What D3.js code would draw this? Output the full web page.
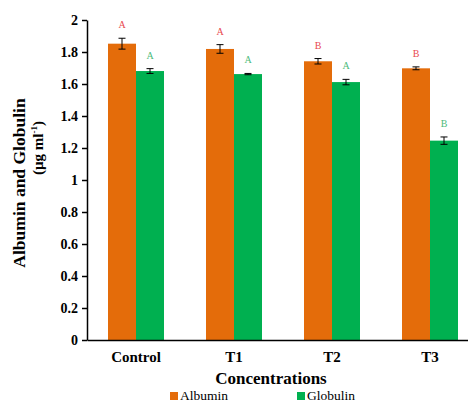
<!DOCTYPE html>
<html><head><meta charset="utf-8">
<script src="https://cdn.jsdelivr.net/npm/d3@7"></script>
<style>body{margin:0;background:#fff}svg{display:block}</style>
</head><body>
<script>
const categories = ["Control", "T1", "T2", "T3"];
const seriesNames = ["Albumin", "Globulin"];
const albumin = [1.852, 1.819, 1.742, 1.698];
const albuminErr = [0.034, 0.027, 0.017, 0.009];
const globulin = [1.681, 1.662, 1.612, 1.246];
const globulinErr = [0.015, 0.004, 0.017, 0.023];
const albuminLetters = ["A", "A", "B", "B"];
const globulinLetters = ["A", "A", "A", "B"];
const yTicks = [0, 0.2, 0.4, 0.6, 0.8, 1, 1.2, 1.4, 1.6, 1.8, 2];

const W = 468, H = 402;
const colors = {Albumin: "#E46C0A", Globulin: "#00B050"};
const letterColors = {Albumin: "#E8474E", Globulin: "#4CBB7A"};
const serif = "'Liberation Serif','Times New Roman',serif";

const svg = d3.select("body").append("svg").attr("width", W).attr("height", H);

const x = d3.scaleBand().domain(categories).range([87, 479]);
const xs = d3.scaleBand().domain(seriesNames).range([x.bandwidth()/2 - 28, x.bandwidth()/2 + 28]);
const y = d3.scaleLinear().domain([0, 2]).range([340, 20]);

const data = [
  {name: "Albumin", vals: albumin, errs: albuminErr, letters: albuminLetters},
  {name: "Globulin", vals: globulin, errs: globulinErr, letters: globulinLetters}
];

// bars
data.forEach(s => {
  const g = svg.append("g");
  categories.forEach((c, i) => {
    const bx = x(c) + xs(s.name);
    g.append("rect").attr("x", bx).attr("y", y(s.vals[i]))
      .attr("width", xs.bandwidth()).attr("height", y(0) - y(s.vals[i]))
      .attr("fill", colors[s.name]);
    const cx = bx + xs.bandwidth()/2;
    const top = y(s.vals[i] + s.errs[i]), bot = y(s.vals[i] - s.errs[i]);
    g.append("line").attr("x1", cx).attr("x2", cx).attr("y1", top).attr("y2", bot)
      .attr("stroke", "#000").attr("stroke-width", 1);
    [top, bot].forEach(yy => g.append("line").attr("x1", cx - 3.5).attr("x2", cx + 3.5)
      .attr("y1", yy).attr("y2", yy).attr("stroke", "#000").attr("stroke-width", 1));
    g.append("text").attr("x", cx).attr("y", top - 10)
      .attr("text-anchor", "middle").attr("font-family", serif).attr("font-size", 10)
      .attr("fill", letterColors[s.name]).text(s.letters[i]);
  });
});

// y axis
const yAxis = d3.axisLeft(y).tickValues(yTicks).tickSize(5).tickSizeOuter(0)
  .tickFormat(d => d3.format("")(+d.toFixed(1)));
const ga = svg.append("g").attr("transform", "translate(87,0)").call(yAxis);
ga.select(".domain").attr("stroke", "#000").attr("stroke-width", 1.5);
ga.selectAll(".tick line").attr("stroke", "#000").attr("stroke-width", 1.5);
ga.selectAll(".tick text").attr("font-family", serif).attr("font-weight", "bold")
  .attr("font-size", 14).attr("fill", "#000").attr("x", -9);

// x axis
const xAxis = d3.axisBottom(x).tickSize(0).tickSizeOuter(0);
const gx = svg.append("g").attr("transform", "translate(0,340)").call(xAxis);
gx.select(".domain").attr("stroke", "#000").attr("stroke-width", 1.5);
gx.selectAll(".tick text").attr("font-family", serif).attr("font-weight", "bold")
  .attr("font-size", 15).attr("fill", "#000").attr("dy", 0).attr("y", 22);

// axis titles
svg.append("text").attr("x", 271).attr("y", 384).attr("text-anchor", "middle")
  .attr("font-family", serif).attr("font-weight", "bold").attr("font-size", 17)
  .text("Concentrations");
const yt = svg.append("text").attr("transform", "translate(25,183) rotate(-90)")
  .attr("text-anchor", "middle").attr("font-family", serif).attr("font-weight", "bold").attr("font-size", 17.5);
yt.append("tspan").attr("x", 0).attr("y", 0).text("Albumin and Globulin");
const yt2 = svg.append("text").attr("transform", "translate(43,148) rotate(-90)")
  .attr("text-anchor", "middle").attr("font-family", serif).attr("font-weight", "bold").attr("font-size", 15);
yt2.append("tspan").text("(µg ml");
yt2.append("tspan").attr("font-size", 9).attr("dy", -6).text("-1");
yt2.append("tspan").attr("dy", 6).text(")");

// legend
const legendPos = [170, 297];
seriesNames.forEach((n, i) => {
  svg.append("rect").attr("x", legendPos[i]).attr("y", 392).attr("width", 8).attr("height", 8)
    .attr("fill", colors[n]);
  svg.append("text").attr("x", legendPos[i] + 10).attr("y", 400)
    .attr("font-family", serif).attr("font-size", 13.5).attr("fill", "#000").text(n);
});
</script>
</body></html>
